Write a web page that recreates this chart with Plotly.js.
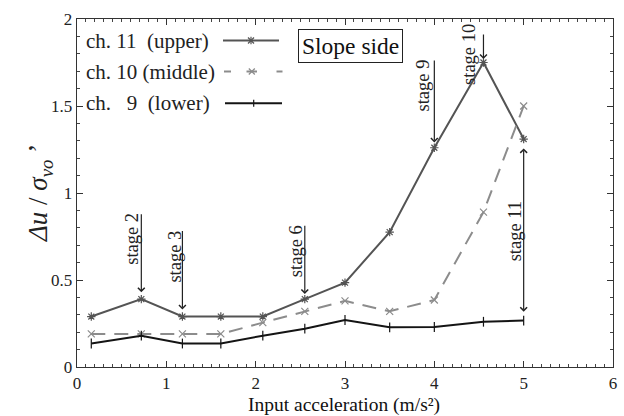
<!DOCTYPE html>
<html>
<head>
<meta charset="utf-8">
<script src="https://cdn.plot.ly/plotly-3.0.1.min.js"></script>
<style>html,body{margin:0;padding:0;background:#fff;}#chart{width:624px;height:416px;}</style>
</head>
<body>
<div id="chart"></div>
<script>
// ---- data ----
const accel = [0.16, 0.72, 1.18, 1.61, 2.08, 2.55, 3.0, 3.5, 4.0, 4.55, 5.0];
const ch11Upper  = [0.29, 0.39, 0.29, 0.29, 0.29, 0.39, 0.485, 0.775, 1.26, 1.75, 1.31];
const ch10Middle = [0.19, 0.19, 0.19, 0.19, 0.255, 0.32, 0.38, 0.32, 0.385, 0.89, 1.50];
const ch9Lower   = [0.135, 0.18, 0.135, 0.135, 0.18, 0.22, 0.27, 0.228, 0.23, 0.26, 0.267];
const seriesNames = ['ch. 11\u00a0\u00a0(upper)', 'ch. 10 (middle)', 'ch. \u00a0 9\u00a0\u00a0(lower)'];
const stageNames = ['stage 2', 'stage 3', 'stage 6', 'stage 9', 'stage 10', 'stage 11'];
const stageX = [0.72, 1.18, 2.55, 4.0, 4.55, 5.0];
const xTicks = [0, 1, 2, 3, 4, 5, 6];
const yTicks = [0, 0.5, 1, 1.5, 2];
const xTitle = 'Input acceleration (m/s²)';
const yTitle = '<i>Δu</i> / <i>σ<sub>vo</sub></i>\u00a0’';

// ---- layout helpers ----
const FONT = '"Liberation Serif", "Times New Roman", serif';
const M = {l: 77, r: 11, t: 19, b: 49};
const W = 624, H = 416;
const PW = W - M.l - M.r, PH = H - M.t - M.b;
const px = v => (v - M.l) / PW;          // pixel -> paper x
const py = v => (H - M.b - v) / PH;      // pixel -> paper y

const cUpper = '#545454', cMid = '#8c8c8c', cLow = '#141414';

const traces = [
  {x: accel, y: ch11Upper, name: seriesNames[0], mode: 'lines+markers',
   line: {color: cUpper, width: 2}, marker: {symbol: 'asterisk-open', size: 7, color: cUpper, line: {width: 1.2, color: cUpper}}},
  {x: accel, y: ch10Middle, name: seriesNames[1], mode: 'lines+markers',
   line: {color: cMid, width: 2, dash: '14px,9px'}, marker: {symbol: 'x-thin-open', size: 7, color: cMid, line: {width: 1.2, color: cMid}}},
  {x: accel, y: ch9Lower, name: seriesNames[2], mode: 'lines+markers',
   line: {color: cLow, width: 2}, marker: {symbol: 'line-ns-open', size: 7, color: cLow, line: {width: 1.2, color: cLow}}}
];

// arrows for stages (tip, tail)
const arrowTip  = [0.43, 0.33, 0.42, 1.29, 1.77, 0.318];
const arrowTail = [0.886, 0.79, 0.82, 1.77, 1.92, 1.265];
const labelX = [0.62, 1.10, 2.45, 3.877, 4.38, 4.90];
const labelY = [0.739, 0.636, 0.665, 1.62, 1.795, 0.778];

const annotations = [];
stageNames.forEach((s, i) => {
  const dbl = i === stageNames.length - 1;
  annotations.push({
    x: stageX[i], y: arrowTip[i], ax: stageX[i], ay: arrowTail[i],
    xref: 'x', yref: 'y', axref: 'x', ayref: 'y', text: '', showarrow: true,
    arrowhead: 4, startarrowhead: 4, arrowsize: 1.1, startarrowsize: 1.1, arrowwidth: 1.2, arrowcolor: '#222',
    arrowside: dbl ? 'end+start' : 'end'
  });
  annotations.push({
    x: labelX[i], y: labelY[i], xref: 'x', yref: 'y', text: s, showarrow: false,
    textangle: -90, xanchor: 'center', yanchor: 'middle',
    font: {family: FONT, size: 18.5, color: '#222'}
  });
});

// legend (text left, sample right)
const legRows = [40.5, 71.5, 103.3];
seriesNames.forEach((n, i) => {
  annotations.push({
    x: px(84), y: py(legRows[i]), xref: 'paper', yref: 'paper', text: n, showarrow: false,
    xanchor: 'left', yanchor: 'middle', font: {family: FONT, size: 21, color: '#222'}
  });
});
annotations.push({
  x: px(350), y: py(46), xref: 'paper', yref: 'paper', text: 'Slope side', showarrow: false,
  xanchor: 'center', yanchor: 'middle', font: {family: FONT, size: 23.5, color: '#111'},
  bordercolor: '#222', borderwidth: 1, borderpad: 3, bgcolor: '#fff'
});
// axis titles
annotations.push({
  x: px(40), y: py(193), xref: 'paper', yref: 'paper', text: yTitle, showarrow: false,
  textangle: -90, xanchor: 'center', yanchor: 'middle', font: {family: FONT, size: 27, color: '#222'}
});
annotations.push({
  x: px(344), y: py(417), xref: 'paper', yref: 'paper', text: xTitle, showarrow: false,
  xanchor: 'center', yanchor: 'bottom', borderpad: 0, font: {family: FONT, size: 19.5, color: '#111'}
});

function seg(x0, y0, x1, y1, color, w) {
  return {type: 'line', xref: 'paper', yref: 'paper', x0: px(x0), y0: py(y0), x1: px(x1), y1: py(y1),
          line: {color: color, width: w}};
}
const shapes = [];
// row 1: solid + asterisk
shapes.push(seg(223, 40.5, 279, 40.5, cUpper, 2));
shapes.push(seg(248, 37.5, 254, 43.5, cUpper, 1.2));
shapes.push(seg(248, 43.5, 254, 37.5, cUpper, 1.2));
shapes.push(seg(251, 36.8, 251, 44.2, cUpper, 1.2));
// row 2: dashed + x
shapes.push(seg(224, 71.5, 231, 71.5, cMid, 2));
shapes.push(seg(246.5, 71.5, 257, 71.5, cMid, 2));
shapes.push(seg(276.5, 71.5, 282.5, 71.5, cMid, 2));
shapes.push(seg(248.8, 68.5, 254.8, 74.5, cMid, 1.2));
shapes.push(seg(248.8, 74.5, 254.8, 68.5, cMid, 1.2));
// row 3: solid + tick
shapes.push(seg(225, 103.3, 282, 103.3, cLow, 2));
shapes.push(seg(253.7, 99.8, 253.7, 106.8, cLow, 1.2));

const axisCommon = {
  showgrid: false, zeroline: false, showline: true, linecolor: '#333', linewidth: 1.3,
  mirror: 'ticks', ticks: 'inside', ticklen: 6, tickwidth: 1, tickcolor: '#333',
  tickfont: {family: FONT, size: 17, color: '#222'}
};

const layout = {
  width: W, height: H, margin: M, paper_bgcolor: '#fff', plot_bgcolor: '#fff',
  showlegend: false, font: {family: FONT, color: '#222'},
  xaxis: Object.assign({}, axisCommon, {
    range: [0, 6], tickvals: xTicks, ticktext: xTicks.map(String), automargin: false,
    minor: {dtick: 0.1, ticks: 'inside', ticklen: 3, tickcolor: '#444', tickwidth: 1}
  }),
  yaxis: Object.assign({}, axisCommon, {
    range: [0, 2], tickvals: yTicks, ticktext: yTicks.map(String), automargin: false,
    minor: {dtick: 0.1, ticks: 'inside', ticklen: 3, tickcolor: '#444', tickwidth: 1}
  }),
  annotations: annotations, shapes: shapes
};

Plotly.newPlot('chart', traces, layout, {displayModeBar: false, staticPlot: true});
</script>
</body>
</html>
